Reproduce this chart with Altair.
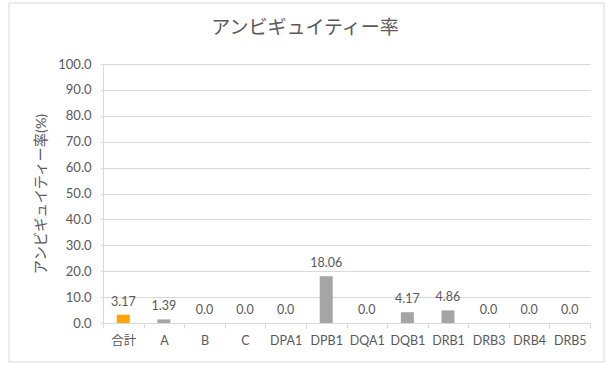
import altair as alt
import pandas as pd

categories = ["合計", "A", "B", "C", "DPA1", "DPB1", "DQA1", "DQB1", "DRB1", "DRB3", "DRB4", "DRB5"]
values = [3.17, 1.39, 0.0, 0.0, 0.0, 18.06, 0.0, 4.17, 4.86, 0.0, 0.0, 0.0]
y_ticks = [0, 10, 20, 30, 40, 50, 60, 70, 80, 90, 100]
chart_title = "アンビギュイティー率"
y_title = "アンビギュイティー率(%)"

df = pd.DataFrame({
    "cat": categories,
    "val": values,
    "label": [f"{v:.2f}" if v else "0.0" for v in values],
})

W, H = 487, 259
FONT = "Lato, 'Noto Sans CJK JP', sans-serif"
TXT = "#595959"
GRID = "#D9D9D9"

x_enc = alt.X(
    "cat:N", sort=categories, title=None,
    scale=alt.Scale(paddingInner=0, paddingOuter=0),
    axis=alt.Axis(labelAngle=0, tickBand="extent", tickSize=5, tickColor=GRID,
                  domainColor=GRID, labelPadding=6, labelColor=TXT,
                  labelFontSize=12.5, labelFont=FONT),
)
y_enc = alt.Y(
    "val:Q", title=y_title,
    scale=alt.Scale(domain=[0, 100]),
    axis=alt.Axis(values=y_ticks, format=".1f", gridColor=GRID, domainColor=GRID,
                  tickColor=GRID, tickSize=3, labelPadding=9, labelColor=TXT,
                  labelFontSize=13, labelFont=FONT, labelOverlap=False,
                  titleFont=FONT, titleFontSize=14.3, titleColor=TXT,
                  titleFontWeight="normal", titlePadding=9),
)

bars = alt.Chart(df).mark_bar(size=13).encode(
    x=x_enc, y=y_enc,
    color=alt.Color("cat:N", scale=alt.Scale(domain=categories,
                    range=["#FFA500"] + ["#A5A5A5"] * (len(categories) - 1)),
                    legend=None),
)

labels = alt.Chart(df).mark_text(baseline="bottom", dy=-6, fontSize=12.5, font=FONT,
                                 color=TXT).encode(
    x=x_enc, y=y_enc, text="label:N")

deco = pd.DataFrame({"t": [chart_title]})
border = alt.Chart(deco).mark_rect(
    fill=None, stroke=GRID, strokeWidth=1, clip=False).encode(
    x=alt.value(-94), x2=alt.value(W + 14), y=alt.value(-61), y2=alt.value(H + 39))

title = alt.Chart(deco).mark_text(fontSize=19, font=FONT, color=TXT, baseline="middle",
                                  align="center").encode(
    x=alt.value(202), y=alt.value(-36), text="t:N")

chart = alt.layer(border, bars, labels, title).properties(
    width=W, height=H,
    autosize=alt.AutoSizeParams(type="none"),
    padding={"left": 103, "top": 64, "right": 21, "bottom": 42},
    background="white",
).configure_view(stroke=None)

chart.save("out.html", embed_options={"renderer": "svg", "actions": False})
